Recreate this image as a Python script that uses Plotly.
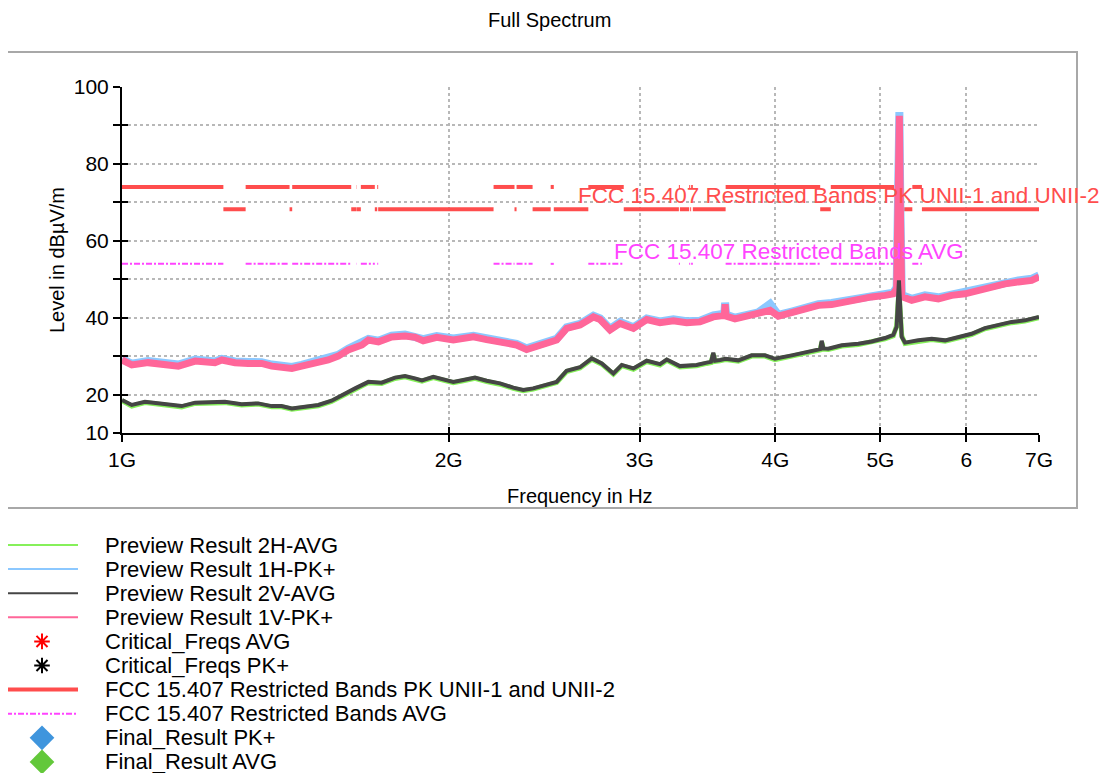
import math
import plotly.graph_objects as go

# ---------------- data ----------------
# Peak traces (1V-PK+ pink, 1H-PK+ light blue) share this frequency grid (GHz)
PK_FREQ_GHZ = [1.000, 1.021, 1.057, 1.095, 1.127, 1.168, 1.218, 1.236, 1.271, 1.307,
               1.345, 1.374, 1.403, 1.434, 1.464, 1.506, 1.549, 1.582, 1.616, 1.664,
               1.687, 1.723, 1.772, 1.823, 1.862, 1.895, 1.950, 2.020, 2.108, 2.168,
               2.246, 2.310, 2.360, 2.411, 2.463, 2.515, 2.569, 2.643, 2.719, 2.758,
               2.817, 2.877, 2.960, 3.045, 3.132, 3.222, 3.314, 3.409, 3.507, 3.590,
               3.596, 3.603, 3.672, 3.751, 3.859, 3.956, 4.026, 4.142, 4.260, 4.383,
               4.508, 4.638, 4.771, 4.908, 5.049, 5.138, 5.175, 5.195, 5.205, 5.215,
               5.231, 5.343, 5.495, 5.653, 5.815, 5.982, 6.153, 6.330, 6.512, 6.699,
               6.891, 7.000]
PK_1V = [29.0, 27.7, 28.3, 27.9, 27.4, 28.7, 28.3, 29.0, 28.3, 28.1,
         28.1, 27.4, 27.1, 26.8, 27.4, 28.1, 29.0, 30.0, 31.6, 32.9,
         34.2, 33.7, 35.0, 35.2, 34.9, 34.0, 34.9, 34.2, 35.0, 34.3,
         33.7, 32.9, 31.7, 32.4, 33.3, 34.2, 37.2, 38.1, 40.2, 39.5,
         36.8, 38.5, 37.2, 39.5, 38.7, 39.2, 38.7, 38.9, 40.2, 40.6,
         43.5, 40.4, 39.7, 40.2, 41.0, 41.9, 40.4, 41.3, 42.1, 43.2,
         43.4, 44.1, 44.9, 45.4, 45.8, 46.2, 47.5, 70.0, 92.5, 70.0,
         45.5, 44.5, 45.4, 44.9, 45.8, 46.2, 47.1, 47.9, 48.8, 49.3,
         49.7, 50.6]
PK_1H = [29.3, 28.0, 28.7, 28.2, 27.8, 29.1, 28.6, 29.3, 28.6, 28.5,
         28.4, 27.8, 27.5, 27.2, 27.7, 28.5, 29.4, 30.3, 31.9, 33.3,
         34.5, 34.0, 35.3, 35.6, 35.2, 34.4, 35.2, 34.6, 35.3, 34.6,
         34.0, 33.2, 32.0, 32.8, 33.6, 34.5, 37.5, 38.4, 40.5, 39.8,
         37.1, 38.9, 37.5, 39.8, 39.0, 39.6, 39.1, 39.2, 40.6, 41.0,
         43.9, 40.8, 40.0, 40.5, 41.4, 43.6, 40.7, 41.6, 42.5, 43.5,
         43.8, 44.5, 45.2, 45.8, 46.1, 46.5, 47.9, 70.5, 93.5, 70.5,
         45.9, 44.9, 45.8, 45.3, 46.1, 46.6, 47.5, 48.3, 49.1, 49.7,
         50.1, 51.0]

# Average traces (2V-AVG dark grey, 2H-AVG green) share this grid (GHz)
AVG_FREQ_GHZ = [1.000, 1.021, 1.050, 1.080, 1.103, 1.135, 1.168, 1.218, 1.244, 1.289,
                1.335, 1.374, 1.403, 1.434, 1.475, 1.517, 1.560, 1.605, 1.640, 1.687,
                1.735, 1.785, 1.823, 1.862, 1.890, 1.936, 1.978, 2.020, 2.063, 2.115,
                2.168, 2.230, 2.294, 2.343, 2.393, 2.463, 2.515, 2.569, 2.643, 2.710,
                2.768, 2.837, 2.888, 2.960, 3.045, 3.132, 3.177, 3.267, 3.385, 3.458,
                3.490, 3.507, 3.520, 3.557, 3.600, 3.698, 3.805, 3.913, 3.997, 4.142,
                4.260, 4.350, 4.400, 4.414, 4.430, 4.476, 4.606, 4.771, 4.908, 5.049,
                5.138, 5.175, 5.200, 5.231, 5.268, 5.418, 5.575, 5.735, 5.899, 6.067,
                6.241, 6.420, 6.605, 6.794, 7.000]
AVG_2V = [18.6, 17.3, 18.1, 17.7, 17.5, 17.0, 17.9, 17.9, 18.1, 17.5,
          17.7, 17.0, 17.0, 16.4, 16.8, 17.3, 18.4, 20.3, 21.6, 23.3,
          23.1, 24.4, 24.8, 24.2, 23.7, 24.6, 23.9, 23.3, 23.8, 24.4,
          23.6, 22.9, 21.8, 21.2, 21.6, 22.5, 23.3, 26.2, 27.1, 29.4,
          28.1, 25.5, 27.7, 26.8, 28.8, 27.9, 29.1, 27.4, 27.7, 28.3,
          28.5, 30.9, 28.8, 29.0, 29.3, 28.9, 30.2, 30.2, 29.3, 30.2,
          31.0, 31.7, 31.8, 34.0, 32.0, 31.9, 32.8, 33.2, 33.8, 34.7,
          35.5, 37.6, 49.7, 35.0, 33.5, 34.1, 34.5, 34.1, 34.9, 35.8,
          37.3, 38.2, 38.9, 39.3, 40.2]
AVG_2H = [18.4, 17.0, 17.9, 17.5, 17.3, 16.8, 17.7, 17.7, 17.9, 17.3,
          17.5, 16.8, 16.8, 16.2, 16.6, 17.1, 18.2, 20.1, 21.4, 23.1,
          22.9, 24.2, 24.6, 24.0, 23.5, 24.4, 23.7, 23.1, 23.6, 24.2,
          23.4, 22.7, 21.6, 21.0, 21.4, 22.3, 23.1, 26.0, 26.9, 29.2,
          27.9, 25.3, 27.5, 26.6, 28.6, 27.7, 28.9, 27.2, 27.5, 28.1,
          28.3, 30.5, 28.6, 28.8, 29.1, 28.7, 30.0, 30.0, 29.1, 30.0,
          30.8, 31.5, 31.6, 33.6, 31.8, 31.7, 32.6, 33.0, 33.6, 34.5,
          35.3, 37.9, 47.0, 35.3, 33.3, 33.9, 34.3, 33.9, 34.7, 35.6,
          37.1, 38.0, 38.7, 39.1, 40.0]

# Limit lines: restricted bands (GHz) and levels (dBuV/m)
BAND_START_GHZ = [1.0, 1.3, 1.435, 1.6455, 1.66, 1.7188, 2.2, 2.31, 2.4835, 2.69,
                  3.26, 3.332, 3.3458, 3.6, 4.5, 5.35]
BAND_STOP_GHZ = [1.24, 1.427, 1.6265, 1.6465, 1.71, 1.7222, 2.3, 2.39, 2.5, 2.9,
                 3.267, 3.339, 3.358, 4.4, 5.15, 5.46]
SPAN_END_GHZ = 7.0
PK_RESTRICTED = 74.0
PK_UNII = 68.2
AVG_RESTRICTED = 54.0

X_TICKS_GHZ = [1, 2, 3, 4, 5, 6, 7]
X_TICK_TEXT = ["1G", "2G", "3G", "4G", "5G", "6", "7G"]
Y_TICKS = [10, 20, 30, 40, 50, 60, 70, 80, 90, 100]
Y_TICK_TEXT = ["10", "20", "", "40", "", "60", "", "80", "", "100"]

LEGEND_LABELS = ["Preview Result 2H-AVG", "Preview Result 1H-PK+", "Preview Result 2V-AVG",
                 "Preview Result 1V-PK+", "Critical_Freqs AVG", "Critical_Freqs PK+",
                 "FCC 15.407 Restricted Bands PK UNII-1 and UNII-2",
                 "FCC 15.407 Restricted Bands AVG", "Final_Result PK+", "Final_Result AVG"]

# ---------------- styling / layout helpers ----------------
# The page places the figure 8 px in from the top-left corner (body margin),
# so the figure is 8 px smaller and every screen position is shifted by 8 px.
OFF = 8
W, H = 1108 - OFF, 773 - OFF
FONT = "Liberation Sans, Arial, sans-serif"
C_GREEN = "#86f05a"
C_BLUE = "#8cc8ff"
C_GREY = "#454545"
C_PINK = "#ff6699"
C_RED = "#ff4d4d"
C_MAG = "#ff44ff"


def fx(p):
    """screen x pixel -> paper fraction"""
    return (p - OFF) / W


def fy(p):
    """screen y pixel -> paper fraction"""
    return 1 - (p - OFF) / H


GHZ = 1e9
fig = go.Figure()

# limit line PK
pk_x, pk_y = [], []
for s, e in zip(BAND_START_GHZ, BAND_STOP_GHZ):
    pk_x += [s * GHZ, e * GHZ, None]
    pk_y += [PK_RESTRICTED, PK_RESTRICTED, None]
gap_starts = BAND_STOP_GHZ
gap_ends = BAND_START_GHZ[1:] + [SPAN_END_GHZ]
for s, e in zip(gap_starts, gap_ends):
    pk_x += [s * GHZ, e * GHZ, None]
    pk_y += [PK_UNII, PK_UNII, None]
fig.add_trace(go.Scatter(x=pk_x, y=pk_y, mode="lines", name=LEGEND_LABELS[6],
                         line=dict(color=C_RED, width=4), connectgaps=False))

avg_x, avg_y = [], []
for s, e in zip(BAND_START_GHZ, BAND_STOP_GHZ):
    avg_x += [s * GHZ, e * GHZ, None]
    avg_y += [AVG_RESTRICTED, AVG_RESTRICTED, None]
fig.add_trace(go.Scatter(x=avg_x, y=avg_y, mode="lines", name=LEGEND_LABELS[7],
                         line=dict(color=C_MAG, width=2, dash="6px,2px,2px,2px")))

# spectra
fig.add_trace(go.Scatter(x=[f * GHZ for f in AVG_FREQ_GHZ], y=AVG_2H, mode="lines",
                         name=LEGEND_LABELS[0], line=dict(color=C_GREEN, width=5)))
fig.add_trace(go.Scatter(x=[f * GHZ for f in PK_FREQ_GHZ], y=PK_1H, mode="lines",
                         name=LEGEND_LABELS[1], line=dict(color=C_BLUE, width=8)))
fig.add_trace(go.Scatter(x=[f * GHZ for f in PK_FREQ_GHZ], y=PK_1V, mode="lines",
                         name=LEGEND_LABELS[3], line=dict(color=C_PINK, width=7)))
fig.add_trace(go.Scatter(x=[f * GHZ for f in AVG_FREQ_GHZ], y=AVG_2V, mode="lines",
                         name=LEGEND_LABELS[2], line=dict(color=C_GREY, width=4)))

# invisible trace for the overlay axes that draw the inner half of the ticks
fig.add_trace(go.Scatter(x=[None], y=[None], xaxis="x2", yaxis="y2", mode="markers",
                         showlegend=False, hoverinfo="skip"))

# ---------------- manual legend (below frame) ----------------
ROW0, ROWSTEP = 545, 24.1
rows = [ROW0 + i * ROWSTEP for i in range(len(LEGEND_LABELS))]
SYM_X0, SYM_X1, SYM_XC = 6, 78, 42
line_styles = {
    0: dict(color=C_GREEN, width=2),
    1: dict(color=C_BLUE, width=2),
    2: dict(color=C_GREY, width=2),
    3: dict(color=C_PINK, width=2),
    6: dict(color=C_RED, width=4),
    7: dict(color=C_MAG, width=2, dash="6px,2px,2px,2px"),
}
# legend-symbol axes map screen pixels directly
LEG_XDOM = [0, 0.1]
LEG_YDOM = [0, 0.34]
leg_xrange = [OFF + LEG_XDOM[0] * W, OFF + LEG_XDOM[1] * W]
leg_yrange = [OFF + (1 - LEG_YDOM[0]) * H, OFF + (1 - LEG_YDOM[1]) * H]
for i, st in line_styles.items():
    fig.add_trace(go.Scatter(x=[SYM_X0, SYM_X1], y=[rows[i], rows[i]], mode="lines",
                             xaxis="x3", yaxis="y3", line=st, showlegend=False,
                             hoverinfo="skip"))
marker_styles = {
    4: dict(symbol="asterisk-open", size=13, color="#ff0000",
            line=dict(color="#ff0000", width=2)),
    5: dict(symbol="asterisk-open", size=13, color="#000000",
            line=dict(color="#000000", width=2)),
    8: dict(symbol="diamond", size=19, color="#3f95dd", line=dict(width=0)),
    9: dict(symbol="diamond", size=19, color="#63c83a", line=dict(width=0)),
}
for i, mk in marker_styles.items():
    fig.add_trace(go.Scatter(x=[SYM_XC], y=[rows[i]], mode="markers", xaxis="x3",
                             yaxis="y3", marker=mk, showlegend=False, hoverinfo="skip",
                             cliponaxis=False))

annotations = []
for i, lab in enumerate(LEGEND_LABELS):
    annotations.append(dict(text=lab, x=fx(103), y=fy(rows[i]), xref="paper", yref="paper",
                            xanchor="left", yanchor="middle", showarrow=False,
                            font=dict(size=22, color="black", family=FONT)))

annotations += [
    dict(text="Full Spectrum", x=fx(549), y=fy(OFF), xanchor="center", yanchor="top",
         borderpad=0, font=dict(size=20)),
    dict(text="Level in dBµV/m", x=fx(57), y=fy(260), textangle=-90, xanchor="center",
         yanchor="middle", font=dict(size=20)),
    dict(text="Frequency in Hz", x=fx(580), y=fy(496), xanchor="center", yanchor="middle",
         font=dict(size=20)),
    dict(text="FCC 15.407 Restricted Bands PK UNII-1 and UNII-2", x=fx(576), y=fy(195),
         xanchor="left", yanchor="middle", font=dict(size=22.5, color=C_RED)),
    dict(text="FCC 15.407 Restricted Bands AVG", x=fx(612), y=fy(251),
         xanchor="left", yanchor="middle", font=dict(size=22.5, color=C_MAG)),
]
for a in annotations:
    a.setdefault("xref", "paper")
    a.setdefault("yref", "paper")
    a.setdefault("showarrow", False)

xr = [9, math.log10(7e9)]
common_x = dict(type="log", range=xr, tickvals=[v * GHZ for v in X_TICKS_GHZ],
                domain=[fx(122), fx(1039)], automargin=False)
common_y = dict(range=[10, 100], tickvals=Y_TICKS, domain=[fy(433), fy(87)],
                automargin=False)

fig.update_layout(
    template="none",
    width=W, height=H, margin=dict(l=0, r=0, t=0, b=0, pad=0, autoexpand=False),
    paper_bgcolor="white", plot_bgcolor="white", showlegend=False,
    font=dict(family=FONT, size=20, color="black"),
    xaxis=dict(**common_x, anchor="y", ticktext=X_TICK_TEXT, ticks="outside", ticklen=7,
               tickwidth=2, tickcolor="black", showline=True, linecolor="black",
               linewidth=2, showgrid=True, gridcolor="#b8b8b8", griddash="dot",
               gridwidth=1.5, zeroline=False, tickfont=dict(size=21)),
    yaxis=dict(**common_y, anchor="x", ticktext=Y_TICK_TEXT, ticks="outside", ticklen=7,
               tickwidth=2, tickcolor="black", showline=True, linecolor="black",
               linewidth=2, showgrid=True, gridcolor="#b8b8b8", griddash="dot",
               gridwidth=1.5, zeroline=False, tickfont=dict(size=21)),
    xaxis2=dict(**common_x, overlaying="x", anchor="y2", ticks="inside", ticklen=6,
                tickwidth=2, tickcolor="black", showticklabels=False, showgrid=False,
                showline=False, zeroline=False),
    yaxis2=dict(**common_y, overlaying="y", anchor="x2", ticks="inside", ticklen=6,
                tickwidth=2, tickcolor="black", showticklabels=False, showgrid=False,
                showline=False, zeroline=False),
    xaxis3=dict(domain=LEG_XDOM, range=leg_xrange, visible=False, anchor="y3",
                fixedrange=True, automargin=False),
    yaxis3=dict(domain=LEG_YDOM, range=leg_yrange, visible=False, anchor="x3",
                fixedrange=True, automargin=False),
    annotations=annotations,
    shapes=[dict(type="rect", xref="paper", yref="paper", x0=fx(7), x1=fx(1077),
                 y0=fy(52), y1=fy(508), line=dict(color="#a8a8a8", width=2),
                 layer="below")],
)

fig.write_html("out.html")
